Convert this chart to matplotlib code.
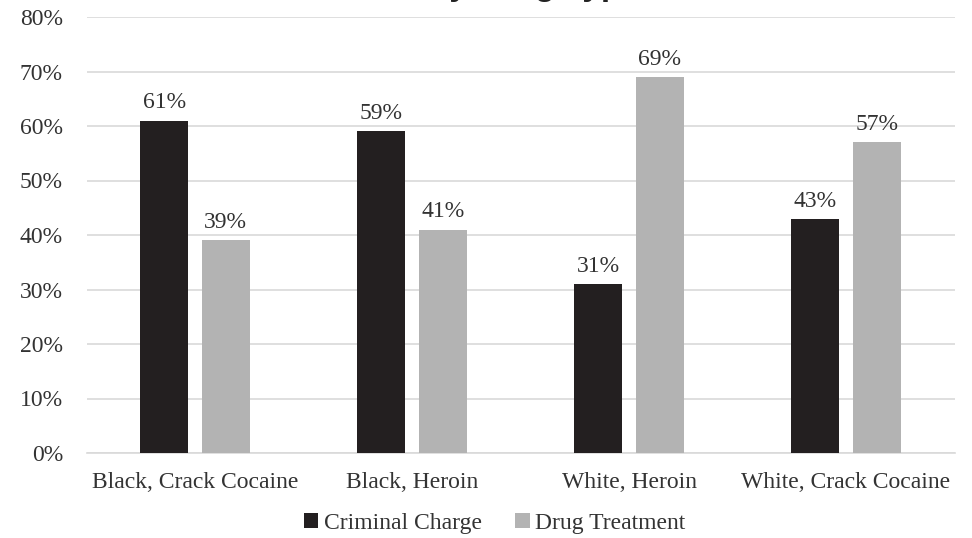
import matplotlib.pyplot as plt
import numpy as np

categories = ["Black, Crack Cocaine", "Black, Heroin", "White, Heroin", "White, Crack Cocaine"]
criminal = [61, 59, 31, 43]
treatment = [39, 41, 69, 57]
series_names = ["Criminal Charge", "Drug Treatment"]

plt.rcParams['font.family'] = ['Liberation Serif', 'DejaVu Serif']

fig = plt.figure(figsize=(9.72, 5.38), dpi=100)
ax = fig.add_axes([86.5 / 972, 1 - 453 / 538, (954.5 - 86.5) / 972, (453 - 17) / 538])

x = np.arange(len(categories))
w = 0.22
b1 = ax.bar(x - 0.142, criminal, w, color='#231f20', label=series_names[0], zorder=3)
b2 = ax.bar(x + 0.142, treatment, w, color='#b3b3b3', label=series_names[1], zorder=3)

for bars in (b1, b2):
    for r in bars:
        ax.text(r.get_x() + r.get_width() / 2, r.get_height() + 1.3, "%d%%" % r.get_height(),
                ha='center', va='bottom', fontsize=17, color='#333333')

ax.set_xlim(-0.5, 3.5)
ax.set_ylim(0, 80)
ax.set_yticks(range(0, 81, 10))
ax.set_yticklabels(["%d%%" % v for v in range(0, 81, 10)])
ax.set_xticks(x)
ax.set_xticklabels(categories)
ax.tick_params(axis='both', length=0, labelsize=17, colors='#333333')
ax.tick_params(axis='y', pad=17)
ax.tick_params(axis='x', pad=14)
ax.grid(axis='y', color='#d9d9d9', linewidth=1.2, zorder=0)
for s in ['top', 'right', 'left']:
    ax.spines[s].set_visible(False)
ax.spines['bottom'].set_color('#d9d9d9')
ax.spines['bottom'].set_linewidth(1.2)

fig.legend(loc='center', bbox_to_anchor=(495 / 972, 1 - 523 / 538), ncol=2, frameon=False,
           fontsize=17, handlelength=0.6, handleheight=0.6, handletextpad=0.25, columnspacing=1.4,
           labelcolor='#333333')

# title is almost fully cropped off the top edge in the reference
fig.text(640 / 972, 1 + 5 / 538, "Outcome by Drug Type", ha='right', va='baseline',
         fontsize=24, fontweight='bold', family=['Liberation Sans', 'DejaVu Sans'], color='#222222')

fig.savefig("out.png", dpi=100)
